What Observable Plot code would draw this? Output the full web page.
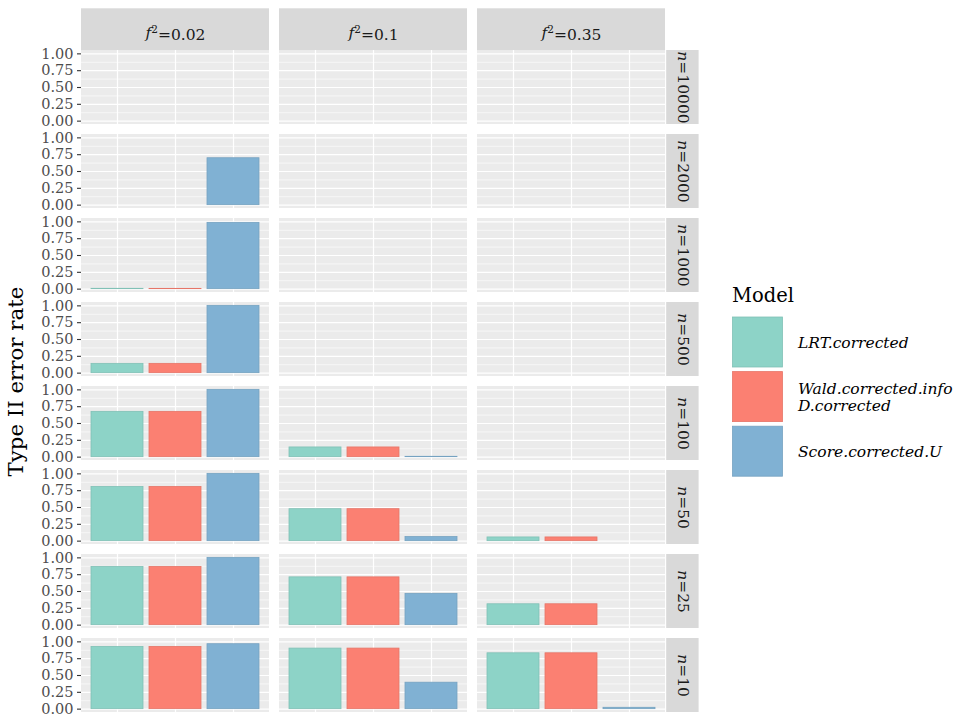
<!DOCTYPE html>
<html>
<head>
<meta charset="utf-8">
<script src="https://cdn.jsdelivr.net/npm/d3@7"></script>
<script src="https://cdn.jsdelivr.net/npm/@observablehq/plot@0.6"></script>
<style>
  html, body { margin: 0; padding: 0; background: #fff; }
  #wrap { position: relative; width: 957px; height: 721px; font-family: "DejaVu Serif", serif; }
  #wrap > svg { position: absolute; left: 0; top: 0; }
  #overlay { pointer-events: none; }
</style>
</head>
<body>
<div id="wrap"></div>
<script>
// ---------- data ----------
const fLevels = ["0.02", "0.1", "0.35"];
const nLevels = ["10000", "2000", "1000", "500", "100", "50", "25", "10"];
const models = ["LRT.corrected", "Wald.corrected.infoD.corrected", "Score.corrected.U"];
const modelLabels = [["LRT.corrected"], ["Wald.corrected.info", "D.corrected"], ["Score.corrected.U"]];
const modelColors = ["#8DD3C7", "#FB8072", "#80B1D3"];
const yTicks = [0, 0.25, 0.5, 0.75, 1];
const yMinor = [0.125, 0.375, 0.625, 0.875];

// rows follow nLevels, columns follow fLevels; null = no bar
const lrtValues = [
  [null, null, null],
  [null, null, null],
  [0.005, null, null],
  [0.138, null, null],
  [0.673, 0.144, null],
  [0.805, 0.475, 0.055],
  [0.865, 0.71, 0.31],
  [0.925, 0.90, 0.83]
];
const waldValues = [
  [null, null, null],
  [null, null, null],
  [0.004, null, null],
  [0.138, null, null],
  [0.673, 0.144, null],
  [0.805, 0.475, 0.055],
  [0.865, 0.71, 0.31],
  [0.925, 0.90, 0.83]
];
const scoreValues = [
  [null, null, null],
  [0.697, null, null],
  [0.985, null, null],
  [1.0, null, null],
  [1.0, 0.005, null],
  [1.0, 0.06, null],
  [1.0, 0.465, null],
  [0.965, 0.393, 0.02]
];

// ---------- build tables ----------
const seriesTables = [lrtValues, waldValues, scoreValues];
const colorOf = Object.fromEntries(models.map((m, i) => [m, modelColors[i]]));
const strokeOf = Object.fromEntries(models.map((m, i) => [m, d3.color(modelColors[i]).darker(0.25).formatHex()]));
const bars = [];
seriesTables.forEach((tab, m) => tab.forEach((row, i) => row.forEach((v, j) => {
  if (v != null) bars.push({model: models[m], n: nLevels[i], f: fLevels[j], value: v});
})));
const panels = nLevels.flatMap(n => fLevels.map(f => ({n, f})));
const topStrips = fLevels.map(f => ({f, n: nLevels[0], label: "f2=" + f}));
const rightStrips = nLevels.map(n => ({n, f: fLevels[fLevels.length - 1], label: "n=" + n}));

// ---------- layout ----------
const W = 957, H = 721;
const mL = 80, mR = 291.3, mT = 47.7, mB = 7.6;
const fxPad = 0.0494, fyPad = 0.125;
const panelW = (W - mL - mR) / (fLevels.length - fxPad) * (1 - fxPad);
const panelH = (H - mT - mB) / (nLevels.length - fyPad) * (1 - fyPad);
const stripTop = 41.7, stripRight = 33.6;
const stripFont = 15.5;

const chart = Plot.plot({
  width: W, height: H,
  marginLeft: mL, marginRight: mR, marginTop: mT, marginBottom: mB,
  style: {fontFamily: "DejaVu Serif", background: "white", overflow: "visible"},
  fx: {domain: fLevels, paddingInner: fxPad, paddingOuter: 0, axis: null},
  fy: {domain: nLevels, paddingInner: fyPad, paddingOuter: 0, axis: null},
  x: {domain: models, paddingInner: 0.1, paddingOuter: 0.15, axis: null},
  y: {domain: [-0.05, 1.05], axis: null},
  marks: [
    Plot.rect(panels, {fx: "f", fy: "n", fill: "#EBEBEB"}),
    Plot.ruleY(yMinor, {stroke: "white", strokeWidth: 0.6}),
    Plot.ruleY(yTicks, {stroke: "white", strokeWidth: 1.2}),
    Plot.gridX({stroke: "white", strokeOpacity: 1, strokeWidth: 1.2}),
    Plot.barY(bars, {
      fx: "f", fy: "n", x: "model", y: "value",
      fill: d => colorOf[d.model], stroke: d => strokeOf[d.model], strokeWidth: 0.8
    }),
    Plot.axisY({
      ticks: yTicks, tickFormat: d3.format(".2f"), tickSize: 4, tickPadding: 4,
      fontSize: 14.5, label: null, stroke: "#333", fill: "#4D4D4D", strokeWidth: 1.1
    }),
    Plot.rect(topStrips, {fx: "f", fy: "n", fill: "#D9D9D9", insetTop: -stripTop, insetBottom: panelH}),
    Plot.rect(rightStrips, {fx: "f", fy: "n", fill: "#D9D9D9", insetLeft: panelW + 0.5, insetRight: -stripRight}),
    Plot.text(topStrips, {
      fx: "f", fy: "n", text: "label", frameAnchor: "top", dy: -stripTop / 2 + 3,
      textAnchor: "middle", lineAnchor: "middle", fontSize: stripFont, fill: "#1A1A1A"
    }),
    Plot.text(rightStrips, {
      fx: "f", fy: "n", text: "label", frameAnchor: "right", dx: stripRight / 2 + 0.5, rotate: 90,
      textAnchor: "middle", lineAnchor: "middle", fontSize: stripFont, fill: "#1A1A1A"
    })
  ]
});

// italic variable names and superscript in strip labels
d3.select(chart).selectAll("text").each(function () {
  const t = this.textContent;
  const sel = d3.select(this);
  if (/^f2=/.test(t)) {
    sel.text(null);
    sel.append("tspan").attr("font-style", "italic").text("f");
    sel.append("tspan").attr("dy", "-0.45em").attr("font-size", "0.68em").text("2");
    sel.append("tspan").attr("dy", "0.45em").text(t.slice(2));
  } else if (/^n=/.test(t)) {
    sel.text(null);
    sel.append("tspan").attr("font-style", "italic").text("n");
    sel.append("tspan").text(t.slice(1));
  }
});

const wrap = document.getElementById("wrap");
wrap.appendChild(chart);

// ---------- overlay: axis title + legend ----------
const ov = d3.select(wrap).append("svg")
  .attr("id", "overlay").attr("width", W).attr("height", H)
  .style("font-family", "DejaVu Serif");

ov.append("text")
  .attr("transform", `translate(16,${(mT + H - mB) / 2 + 1}) rotate(-90)`)
  .attr("text-anchor", "middle").attr("dy", "0.35em")
  .attr("font-size", 19.5).attr("fill", "#000")
  .attr("textLength", 190).attr("lengthAdjust", "spacingAndGlyphs")
  .text("Type II error rate");

const lg = ov.append("g").attr("transform", "translate(732,0)");
lg.append("text").attr("x", 0).attr("y", 302).attr("font-size", 19.5).attr("fill", "#000").text("Model");
models.forEach((m, i) => {
  const y0 = 317 + i * 54.6;
  lg.append("rect").attr("x", 0.5).attr("y", y0).attr("width", 50).attr("height", 50)
    .attr("fill", modelColors[i]).attr("stroke", strokeOf[m]).attr("stroke-width", 0.8);
  const lines = modelLabels[i];
  const cy = y0 + 25;
  lines.forEach((ln, k) => {
    lg.append("text").attr("x", 66)
      .attr("y", cy + 5.5 + (k - (lines.length - 1) / 2) * 17)
      .attr("font-size", 15.5).attr("font-style", "italic").attr("fill", "#000")
      .text(ln);
  });
});
</script>
</body>
</html>
